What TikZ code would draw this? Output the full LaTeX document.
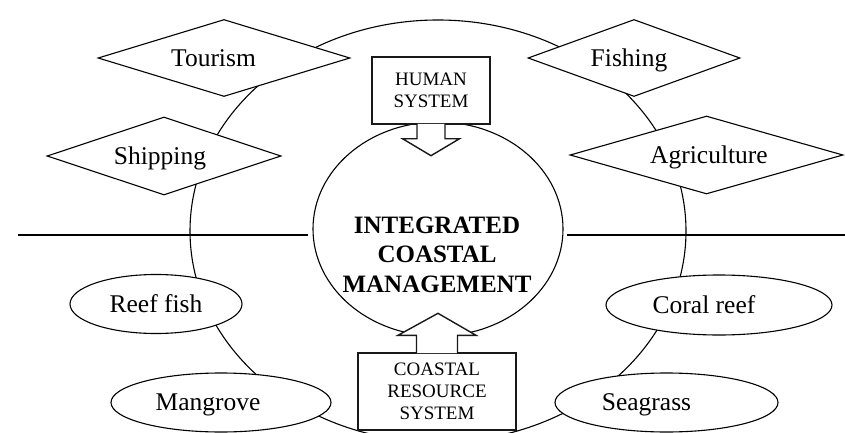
\documentclass[tikz,border=0pt]{standalone}
\usepackage{fontspec}
\setmainfont{Liberation Serif}
\usetikzlibrary{shapes.geometric,calc}
\begin{document}
\begin{tikzpicture}[x=1pt,y=-1pt,
  lw/.style={line width=1.1pt, draw=black},
  boxline/.style={line width=1.4pt, draw=black!90},
  lbl/.style={font=\fontsize{25.5}{30}\selectfont, text height=16.7pt, text depth=0pt, inner sep=0pt},
  dia/.style={diamond, lw, fill=white, inner sep=0pt},
  oval/.style={ellipse, lw, fill=white, inner sep=0pt},
  sysbox/.style={rectangle, boxline, fill=white, inner sep=0pt, align=center,
                 font=\fontsize{19}{22}\selectfont},
  shore/.style={line width=2.8pt, draw=black}]

% page frame
\clip (0,0) rectangle (845,433);

% the coastal zone: outer ring linking all uses and resources
\node[ellipse, lw, inner sep=0pt, minimum width=496pt, minimum height=422pt] (coast) at (438,231) {};

% shoreline
\coordinate (shoreW)  at (18,235);
\coordinate (shoreWi) at (308,235);
\coordinate (shoreEi) at (567,235);
\coordinate (shoreE)  at (845,235);
\draw[shore] (shoreW) -- (shoreWi);
\draw[shore] (shoreEi) -- (shoreE);

% central management ellipse
\node[oval, minimum width=250pt, minimum height=214pt] (icm) at (438,229) {};
\node[font=\bfseries\fontsize{25}{29.5}\selectfont, align=center, inner sep=0pt]
  (icmtext) at (437,254.5) {INTEGRATED\\COASTAL\\MANAGEMENT};

% human system box with arrow into the centre
\node[sysbox, minimum width=118pt, minimum height=67pt] (human) at (431,90.5) {HUMAN\\SYSTEM};
\filldraw[boxline, fill=white]
  ($(human.south)+(-14,-0.8)$) -- ($(human.south)+(-14,14)$) -- ($(human.south)+(-28.5,14)$)
  -- ($(human.south)+(0,31)$) -- ($(human.south)+(28.5,14)$) -- ($(human.south)+(14,14)$)
  -- ($(human.south)+(14,-0.8)$);

% coastal resource system box with arrow into the centre
\node[sysbox, minimum width=158pt, minimum height=77pt] (resource) at (437,391.5) {COASTAL\\RESOURCE\\SYSTEM};
\filldraw[boxline, fill=white]
  ($(resource.north)+(-20.5,0.8)$) -- ($(resource.north)+(-20.5,-17)$) -- ($(resource.north)+(-39,-17)$)
  -- ($(resource.north)+(1,-39)$) -- ($(resource.north)+(39,-17)$) -- ($(resource.north)+(20.5,-17)$)
  -- ($(resource.north)+(20.5,0.8)$);

% human uses (diamonds)
\node[dia, minimum width=252pt, minimum height=77pt, label={[lbl, xshift=-10.5pt]center:Tourism}] (tourism) at (224,58) {};
\node[dia, minimum width=234pt, minimum height=78pt, label={[lbl, xshift=-4pt]center:Shipping}] (shipping) at (164,156) {};
\node[dia, minimum width=212pt, minimum height=77pt, label={[lbl, xshift=-5pt]center:Fishing}] (fishing) at (634,58) {};
\node[dia, minimum width=273pt, minimum height=78pt, label={[lbl, xshift=2.5pt]center:Agriculture}] (agriculture) at (706.5,155) {};

% coastal resources (ellipses)
\node[oval, minimum width=172pt, minimum height=59pt, label={[lbl]center:Reef fish}] (reeffish) at (156,304) {};
\node[oval, minimum width=220pt, minimum height=59pt, label={[lbl, xshift=-13pt]center:Mangrove}] (mangrove) at (221,402.5) {};
\node[oval, minimum width=226pt, minimum height=60pt, label={[lbl, xshift=-15pt]center:Coral reef}] (coralreef) at (719,305) {};
\node[oval, minimum width=223pt, minimum height=59pt, label={[lbl, xshift=-20pt]center:Seagrass}] (seagrass) at (666.5,402.5) {};
\end{tikzpicture}
\end{document}
